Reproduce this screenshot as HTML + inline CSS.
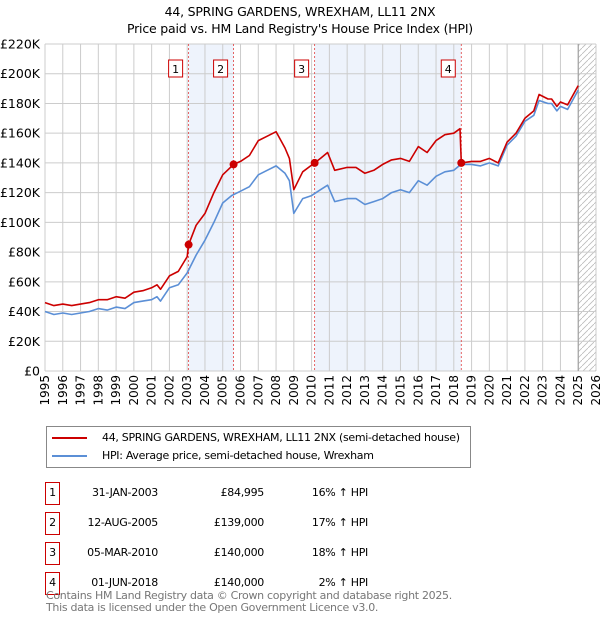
<!DOCTYPE html>
<html><head><meta charset="utf-8"><style>
body{margin:0;background:#fff;font-family:"DejaVu Sans","Liberation Sans",sans-serif;}
#wrap{position:relative;width:600px;height:620px;overflow:hidden}
.t{position:absolute;font-size:12px;color:#000;white-space:nowrap}
.n{font-size:11px;letter-spacing:-0.3px;white-space:nowrap}
</style></head><body><div id="wrap">
<div class="t" style="left:0;width:600px;text-align:center;top:4px;font-size:12.5px;letter-spacing:-0.2px">44, SPRING GARDENS, WREXHAM, LL11 2NX</div>
<div class="t" style="left:0;width:600px;text-align:center;top:21px;font-size:12.5px;letter-spacing:-0.2px">Price paid vs. HM Land Registry's House Price Index (HPI)</div>
<svg id="chart" width="600" height="420" style="position:absolute;left:0;top:0" font-family="DejaVu Sans, Liberation Sans, sans-serif"></svg>
<div style="position:absolute;left:46px;top:426px;width:423px;height:40px;border:1px solid #888;">
 <div class="n" style="position:absolute;left:5px;top:4px"><span style="display:inline-block;width:35px;height:2px;background:#cc0000;vertical-align:middle;margin-right:15px"></span>44, SPRING GARDENS, WREXHAM, LL11 2NX (semi-detached house)</div>
 <div class="n" style="position:absolute;left:5px;top:22px"><span style="display:inline-block;width:35px;height:2px;background:#5b8fd6;vertical-align:middle;margin-right:15px"></span>HPI: Average price, semi-detached house, Wrexham</div>
</div>
<div id="table"></div>
<div class="t n" style="left:46px;top:590px;color:#777;line-height:12px">Contains HM Land Registry data © Crown copyright and database right 2025.<br>This data is licensed under the Open Government Licence v3.0.</div>
</div>
<script>
const hpiYears=[1995,1995.5,1996,1996.5,1997,1997.5,1998,1998.5,1999,1999.5,2000,2000.5,2001,2001.3,2001.5,2002,2002.5,2003,2003.5,2004,2004.5,2005,2005.5,2006,2006.5,2007,2007.5,2008,2008.5,2008.75,2009,2009.5,2010,2010.5,2010.9,2011.3,2012,2012.5,2013,2013.5,2014,2014.5,2015,2015.5,2016,2016.5,2017,2017.5,2018,2018.4,2019,2019.5,2020,2020.5,2021,2021.5,2022,2022.5,2022.8,2023.3,2023.5,2023.8,2024,2024.4,2025];
const hpiValues=[40,38,39,38,39,40,42,41,43,42,46,47,48,50,47,56,58,66,78,88,100,113,118,121,124,132,135,138,133,128,106,116,118,122,125,114,116,116,112,114,116,120,122,120,128,125,131,134,135,139,139,138,140,138,152,158,168,172,182,180,180,175,178,176,189];
const ppYears=[1995,1995.5,1996,1996.5,1997,1997.5,1998,1998.5,1999,1999.5,2000,2000.5,2001,2001.3,2001.5,2002,2002.5,2003,2003.08,2003.5,2004,2004.5,2005,2005.61,2006,2006.5,2007,2007.5,2008,2008.5,2008.75,2009,2009.5,2010.17,2010.5,2010.9,2011.3,2012,2012.5,2013,2013.5,2014,2014.5,2015,2015.5,2016,2016.5,2017,2017.5,2018,2018.35,2018.42,2019,2019.5,2020,2020.5,2021,2021.5,2022,2022.5,2022.8,2023.3,2023.5,2023.8,2024,2024.4,2025];
const ppValues=[46,44,45,44,45,46,48,48,50,49,53,54,56,58,55,64,67,77,85,98,106,120,132,139,141,145,155,158,161,150,143,122,134,140,143,147,135,137,137,133,135,139,142,143,141,151,147,155,159,160,163,140,141,141,143,140,154,160,170,175,186,183,183,178,181,179,192];
const saleYears=[2003.08,2005.61,2010.17,2018.42];
const saleValues=[84995,139000,140000,140000];
const saleLabels=["1","2","3","4"];
const saleDates=["31-JAN-2003","12-AUG-2005","05-MAR-2010","01-JUN-2018"];
const salePrices=["£84,995","£139,000","£140,000","£140,000"];
const saleHpi=["16% ↑ HPI","17% ↑ HPI","18% ↑ HPI","2% ↑ HPI"];
const yTicks=[0,20,40,60,80,100,120,140,160,180,200,220];
const yTickLabels=["£0","£20K","£40K","£60K","£80K","£100K","£120K","£140K","£160K","£180K","£200K","£220K"];

const X0=45,X1=596,Y0=371,Y1=44;
const xs=y=>X0+(y-1995)*(X1-X0)/31;
const ys=v=>Y0-v*(Y0-Y1)/220;
const svg=document.getElementById('chart');
const NS="http://www.w3.org/2000/svg";
function mk(tag,attrs,parent){const e=document.createElementNS(NS,tag);for(const k in attrs)e.setAttribute(k,attrs[k]);(parent||svg).appendChild(e);return e;}
const defs=mk('defs',{});
const pat=mk('pattern',{id:'hatch',width:6,height:6,patternUnits:'userSpaceOnUse'},defs);
mk('path',{d:'M0,6 L6,0',stroke:'#bbb','stroke-width':0.8},pat);
for(const [a,b] of [[0,1],[2,3]]){
  const r=mk('rect',{x:xs(saleYears[a]),y:Y1,width:xs(saleYears[b])-xs(saleYears[a]),height:Y0-Y1,fill:'#eef3fc'});
  
  
}
const h=mk('rect',{x:xs(2025),y:Y1,width:X1-xs(2025),height:Y0-Y1,fill:'url(#hatch)'});


for(let yr=1995;yr<=2026;yr++){
  const l=mk('line',{x1:xs(yr),x2:xs(yr),y1:Y1,y2:Y0,stroke:'#ccc','stroke-width':1});
  
  
  const t=mk('text',{x:0,y:0,'font-size':12,'text-anchor':'end',transform:`translate(${xs(yr)+4},375) rotate(-90)`});
  t.textContent=yr;
  
  
}
yTicks.forEach((v,i)=>{
  const l=mk('line',{x1:X0,x2:X1,y1:ys(v),y2:ys(v),stroke:'#ccc','stroke-width':1});
  
  
  const t=mk('text',{x:40,y:ys(v)+4.5,'font-size':12.5,'text-anchor':'end'});
  t.textContent=yTickLabels[i];
  
  
});
mk('line',{x1:xs(2025),x2:xs(2025),y1:Y1,y2:Y0,stroke:'#999','stroke-width':1});
saleYears.forEach((yr,i)=>{
  const l=mk('line',{x1:xs(yr),x2:xs(yr),y1:Y1,y2:Y0,stroke:'#e04040','stroke-width':0.8,'stroke-dasharray':'2,2'});
  
  
});
function path(xsArr,vs,color,name){
  const d=xsArr.map((yr,i)=>(i?'L':'M')+xs(yr).toFixed(1)+','+ys(vs[i]).toFixed(1)).join(' ');
  const p=mk('path',{d:d,fill:'none',stroke:color,'stroke-width':1.6,'stroke-linejoin':'round'});
  
  
}
path(hpiYears,hpiValues,'#5b8fd6','hpi-line');
path(ppYears,ppValues,'#cc0000','price-paid-line');
saleYears.forEach((yr,i)=>{
  const c=mk('circle',{cx:xs(yr),cy:ys(saleValues[i]/1000),r:4,fill:'#cc0000'});
  
  
  const g=mk('rect',{x:xs(yr)-20,y:60,width:14,height:17,fill:'#fff',stroke:'#cc0000','stroke-width':1});
  
  
  const t=mk('text',{x:xs(yr)-13,y:73,'font-size':11,'text-anchor':'middle'});
  t.textContent=saleLabels[i];
  
  
});
const tb=document.getElementById('table');
saleLabels.forEach((lab,i)=>{
  const top=482+i*30;
  const row=document.createElement('div');
  
  
  row.className='n';
  row.style.cssText=`position:absolute;left:0;top:${top}px;width:600px;height:24px;`;
  row.innerHTML=`<div style="position:absolute;left:45px;top:0;width:13px;height:21px;border:1px solid #cc0000;text-align:center;line-height:20px">${lab}</div>
  <div style="position:absolute;left:70px;width:88px;top:4px;text-align:right">${saleDates[i]}</div>
  <div style="position:absolute;left:164px;width:100px;top:4px;text-align:right">${salePrices[i]}</div>
  <div style="position:absolute;left:268px;width:100px;top:4px;text-align:right">${saleHpi[i]}</div>`;
  tb.appendChild(row);
});
</script></body></html>
